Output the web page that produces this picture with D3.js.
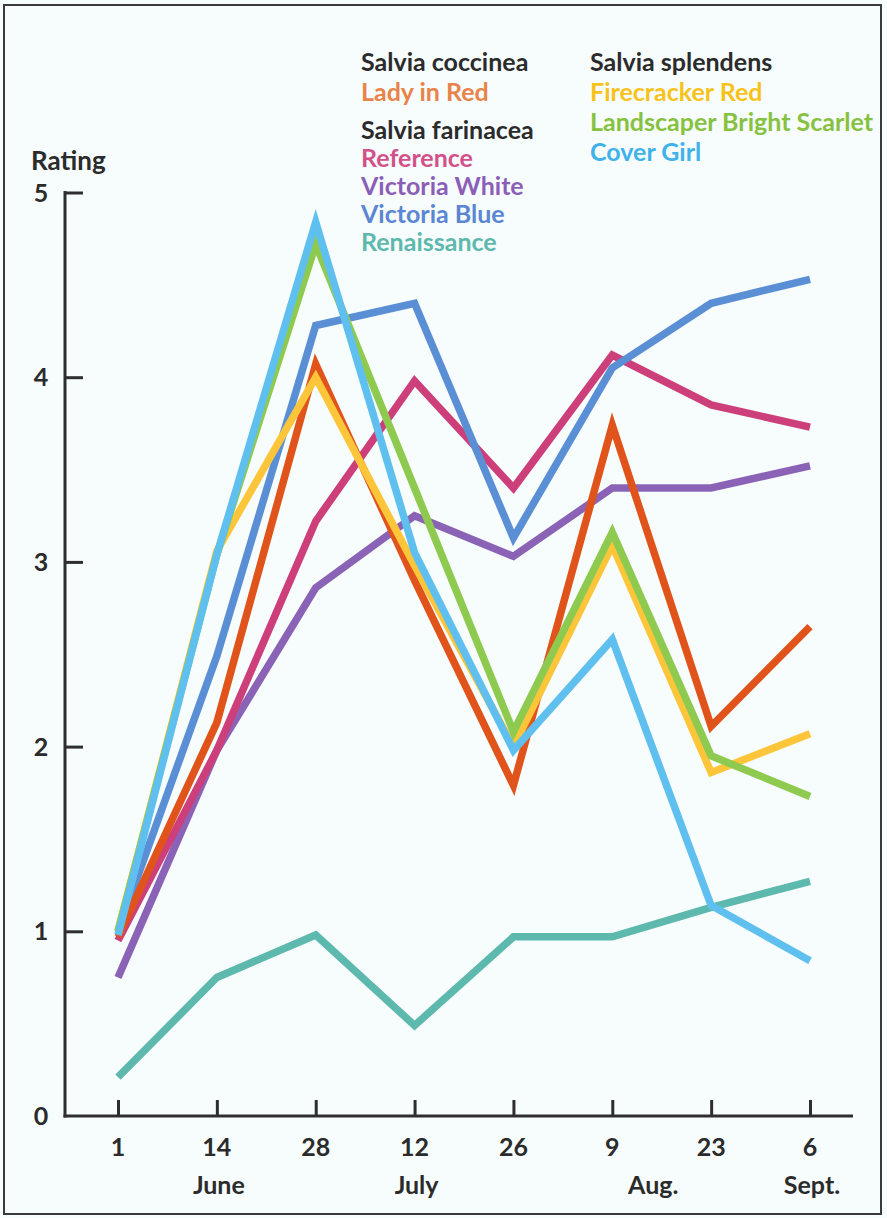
<!DOCTYPE html>
<html>
<head>
<meta charset="utf-8">
<script src="https://cdn.jsdelivr.net/npm/d3@7"></script>
<style>
html,body{margin:0;padding:0;background:#f7fcfc;}
svg{display:block;}
text{font-family:"Lato","Liberation Sans",sans-serif;font-weight:700;}
</style>
</head>
<body>
<svg id="chart" width="887" height="1218"></svg>
<script>
// ---- data ----
const dates = ["1", "14", "28", "12", "26", "9", "23", "6"];
const months = ["June", "July", "Aug.", "Sept."];
const monthAt = ["14", "12", "9", "6"];
const yTicks = [0, 1, 2, 3, 4, 5];

const ladyInRed      = [0.97, 2.13, 4.07, 2.90, 1.79, 3.74, 2.11, 2.65];
const firecracker    = [1.00, 3.06, 4.00, 2.98, 2.00, 3.09, 1.86, 2.07];
const landscaper     = [1.00, 3.04, 4.72, 3.40, 2.08, 3.16, 1.95, 1.73];
const coverGirl      = [0.98, 3.04, 4.84, 3.05, 1.98, 2.58, 1.14, 0.84];
const reference      = [0.95, 1.98, 3.22, 3.98, 3.40, 4.12, 3.85, 3.73];
const victoriaWhite  = [0.75, 1.98, 2.86, 3.25, 3.03, 3.40, 3.40, 3.52];
const victoriaBlue   = [1.00, 2.49, 4.28, 4.40, 3.13, 4.05, 4.40, 4.53];
const renaissance    = [0.21, 0.75, 0.98, 0.49, 0.97, 0.97, 1.13, 1.27];

const seriesNames  = ["Renaissance", "Victoria White", "Reference", "Victoria Blue", "Lady in Red", "Firecracker Red", "Landscaper Bright Scarlet", "Cover Girl"];
const seriesValues = [renaissance, victoriaWhite, reference, victoriaBlue, ladyInRed, firecracker, landscaper, coverGirl];
const lineColors   = ["#5db9ad", "#8b63b6", "#cd3f7b", "#5a8fd5", "#e0541c", "#fdc63a", "#8fca50", "#5fc0ef"];
const labelColors  = ["#5db9ad", "#8b5fb8", "#d2518a", "#5a86d3", "#e8834a", "#f7c21a", "#86c23f", "#3fb2ea"];

const groupCoccinea   = ["Lady in Red"];
const groupFarinacea  = ["Reference", "Victoria White", "Victoria Blue", "Renaissance"];
const groupSplendens  = ["Firecracker Red", "Landscaper Bright Scarlet", "Cover Girl"];

// ---- chart ----
const svg = d3.select("#chart");
svg.append("rect").attr("x", 4).attr("y", 5).attr("width", 877).attr("height", 1209)
  .attr("fill", "#f7fcfc").attr("stroke", "#3a3a3a").attr("stroke-width", 2);

const x = d3.scalePoint().domain(d3.range(dates.length)).range([118, 810]);
const y = d3.scaleLinear().domain([0, 5]).range([1116, 192.5]);

const axisColor = "#2e2e2e";
const textColor = "#2b2b2b";
// y axis
const yAxis = d3.axisRight(y).tickValues(yTicks).tickSize(18).tickFormat("");
const gy = svg.append("g").attr("transform", "translate(65,0)").call(yAxis);
gy.select(".domain").remove();
gy.selectAll(".tick line").attr("stroke", axisColor).attr("stroke-width", 3);
gy.selectAll(".tick").filter(d => d === 0).remove();
svg.append("line").attr("x1", 65).attr("x2", 65).attr("y1", y(5) - 1.5).attr("y2", y(0) + 1.5)
  .attr("stroke", axisColor).attr("stroke-width", 3);
svg.append("g").selectAll("text").data(yTicks).join("text")
  .attr("x", 41).attr("y", d => y(d)).attr("dy", "0.36em")
  .attr("text-anchor", "middle").attr("font-size", 25).attr("fill", textColor)
  .text(d => d);
svg.append("text").attr("x", 31).attr("y", 170).attr("font-size", 26).attr("fill", textColor).text("Rating");

// x axis
const xAxis = d3.axisTop(x).tickSize(16).tickFormat("");
const gx = svg.append("g").attr("transform", `translate(0,${y(0)})`).call(xAxis);
gx.select(".domain").remove();
gx.selectAll(".tick line").attr("stroke", axisColor).attr("stroke-width", 3);
svg.append("line").attr("x1", 63.5).attr("x2", 853).attr("y1", y(0)).attr("y2", y(0))
  .attr("stroke", axisColor).attr("stroke-width", 3);
svg.append("g").selectAll("text").data(dates).join("text")
  .attr("x", (d, i) => x(i)).attr("y", 1156)
  .attr("text-anchor", "middle").attr("font-size", 25).attr("fill", textColor)
  .text(d => d);
svg.append("g").selectAll("text").data(months).join("text")
  .attr("x", (d, i) => x(dates.indexOf(monthAt[i], i === 0 ? 0 : 2)) + (d === "Aug." ? 41 : 2))
  .attr("y", 1194)
  .attr("text-anchor", "middle").attr("font-size", 25).attr("fill", textColor)
  .text(d => d);

// lines
const line = d3.line().x((d, i) => x(i)).y(d => y(d));
svg.append("g").selectAll("path").data(seriesValues).join("path")
  .attr("d", d => line(d))
  .attr("fill", "none")
  .attr("stroke", (d, i) => lineColors[i])
  .attr("stroke-width", 7.5)
  .attr("stroke-linejoin", "miter")
  .attr("stroke-miterlimit", 10);

// legend
const colorOf = n => labelColors[seriesNames.indexOf(n)];
const lg = svg.append("g").attr("font-size", 25);
function block(x0, y0, title, items, step) {
  lg.append("text").attr("x", x0).attr("y", y0).attr("fill", textColor).text(title);
  items.forEach((n, k) => {
    lg.append("text").attr("x", x0).attr("y", y0 + (k + 1) * step).attr("fill", colorOf(n)).text(n);
  });
}
block(361, 71, "Salvia coccinea", groupCoccinea, 29.5);
block(361, 139, "Salvia farinacea", groupFarinacea, 28);
block(590, 71, "Salvia splendens", groupSplendens, 30);
</script>
</body>
</html>
